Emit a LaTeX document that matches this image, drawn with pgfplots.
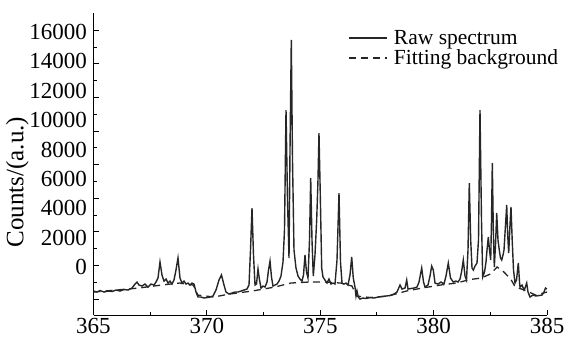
\documentclass[border=0pt]{standalone}
\usepackage{fontspec}
\setmainfont{Liberation Serif}
\usepackage{pgfplots}
\pgfplotsset{compat=1.18}
\begin{document}
\begin{tikzpicture}
\path[use as bounding box] (-93.5pt,-30pt) rectangle (475.5pt,315pt);
\begin{axis}[
 scale only axis, width=453.5pt, height=302pt,
 at={(0pt,0pt)}, anchor=south west,
 xmin=365, xmax=385, ymin=-950, ymax=17023,
 axis lines=left, axis line style={-, line width=1pt},
 tick align=inside, major tick length=5pt, minor tick length=3pt,
 tick style={line width=0.9pt, black},
 xtick={365,370,375,380,385}, minor x tick num=1,
 ytick={0,2000,...,16000}, minor y tick num=1, yticklabels={},
 scaled y ticks=false,
 extra y ticks={1900,3650,5400,7150,8900,10650,12400,14150,15900},
 extra y tick labels={0,2000,4000,6000,8000,10000,12000,14000,16000},
 extra y tick style={major tick length=0pt},
 /pgf/number format/assume math mode=true,
 /pgf/number format/1000 sep={},
 tick label style={font=\fontsize{23}{26}\selectfont},
 y tick label style={xshift=-3pt},
 ylabel={Counts/(a.u.)},
 ylabel style={at={(axis description cs:-0.168,0.44)}, anchor=center, font=\fontsize{25}{28}\selectfont},
 legend style={draw=none, fill=none, at={(axis description cs:0.562,0.95)}, anchor=north west, font=\fontsize{21.5}{24}\selectfont, row sep=0pt, inner sep=0pt, /tikz/every odd column/.append style={column sep=4pt}},
 legend cell align=left,
 legend image code/.code={\draw[#1] (0pt,0pt) -- (38pt,0pt);},
]
\addplot[color=black!85, line width=1.4pt] coordinates {
(365.000,476) (365.154,417) (365.287,506) (365.463,417) (365.639,476) (365.816,446)
(365.992,536) (366.169,476) (366.345,565) (366.521,536) (366.698,655) (366.830,893)
(366.918,1012) (367.007,833) (367.139,774) (367.271,893) (367.404,714) (367.536,893)
(367.668,833) (367.756,1012) (367.844,1250) (367.933,2202) (368.021,1428) (368.109,1071)
(368.197,1190) (368.285,952) (368.374,1071) (368.462,893) (368.550,1131) (368.638,1726)
(368.726,2440) (368.815,1250) (368.903,952) (368.991,1071) (369.079,893) (369.167,952)
(369.256,833) (369.344,952) (369.432,893) (369.520,417) (369.608,119) (369.741,119)
(369.873,60) (370.005,89) (370.138,119) (370.270,179) (370.402,536) (370.535,1131)
(370.645,1428) (370.755,833) (370.843,417) (370.976,298) (371.108,357) (371.240,417)
(371.373,417) (371.505,476) (371.637,536) (371.770,595) (371.858,833) (371.924,2916)
(371.990,5416) (372.056,2619) (372.123,833) (372.189,893) (372.255,1786) (372.321,1131)
(372.387,655) (372.475,774) (372.564,714) (372.652,1012) (372.718,1726) (372.784,2262)
(372.850,1309) (372.916,774) (373.004,833) (373.093,893) (373.181,1071) (373.269,1369)
(373.357,2202) (373.423,4107) (373.490,11249) (373.556,5892) (373.622,2440) (373.666,8869)
(373.723,15416) (373.776,8273) (373.842,2916) (373.930,1845) (374.019,1369) (374.107,1190)
(374.195,1071) (374.261,1428) (374.327,2619) (374.394,1607) (374.460,1250) (374.526,3512)
(374.579,7202) (374.636,3512) (374.693,1369) (374.768,2619) (374.843,4702) (374.900,7083)
(374.944,9880) (374.997,6488) (375.064,1845) (375.121,1309) (375.209,1131) (375.297,952)
(375.386,1190) (375.474,893) (375.562,952) (375.650,893) (375.739,2321) (375.827,6309)
(375.893,2202) (375.959,952) (376.047,893) (376.135,952) (376.224,833) (376.312,1428)
(376.387,2500) (376.457,1250) (376.532,714) (376.577,179) (376.621,476) (376.678,119)
(376.753,0) (376.885,60) (377.018,30) (377.194,89) (377.370,60) (377.547,119)
(377.723,149) (377.900,179) (378.076,208) (378.252,298) (378.385,417) (378.517,833)
(378.605,595) (378.738,655) (378.813,1131) (378.870,595) (379.002,625) (379.135,655)
(379.267,714) (379.355,1012) (379.474,1845) (379.554,1012) (379.620,714) (379.752,833)
(379.840,1369) (379.915,1964) (379.986,1726) (380.061,952) (380.193,893) (380.325,1012)
(380.458,893) (380.546,1369) (380.647,2143) (380.744,1250) (380.868,1012) (380.987,1071)
(381.075,1012) (381.164,1190) (381.230,1607) (381.309,2321) (381.384,1369) (381.450,1131)
(381.516,2916) (381.573,6904) (381.635,3512) (381.693,1845) (381.750,1726) (381.825,1964)
(381.913,2143) (381.979,3512) (382.045,11249) (382.111,4702) (382.164,1309) (382.244,1607)
(382.310,2202) (382.354,2916) (382.411,3690) (382.464,2916) (382.517,2321) (382.553,4702)
(382.588,8095) (382.632,4107) (382.676,1905) (382.729,3214) (382.782,5119) (382.839,3512)
(382.896,2916) (382.949,2440) (383.002,2321) (383.060,2619) (383.104,2916) (383.170,4405)
(383.223,5595) (383.267,3810) (383.311,2738) (383.368,4405) (383.412,5476) (383.465,3512)
(383.523,1726) (383.589,952) (383.655,1131) (383.735,2143) (383.788,1012) (383.810,714)
(383.898,833) (383.986,536) (384.030,655) (384.105,952) (384.162,417) (384.251,119)
(384.383,238) (384.515,179) (384.648,208) (384.780,238) (384.868,417) (384.934,655)
(385.000,595)
};
\addlegendentry{Raw spectrum}
\addplot[color=black!85, line width=1.3pt, dash pattern=on 7pt off 5pt] coordinates {
(365,417) (366,536) (367,655) (368,833) (368.8,952) (369.4,833) (369.6,238) (370.3,119)
(371,298) (372,476) (373,714) (373.7,952) (374.5,1012) (375.2,1012) (375.9,952)
(376.4,774) (376.6,179) (377.2,89) (378,179) (378.8,476) (379.5,655) (380.3,833)
(381,952) (381.6,1161) (382.1,1250) (382.5,1488) (382.8,1905) (383.1,1607) (383.4,1190)
(383.6,714) (384,536) (384.5,238) (385,417)
};
\addlegendentry{Fitting background}
\end{axis}
\end{tikzpicture}
\end{document}
